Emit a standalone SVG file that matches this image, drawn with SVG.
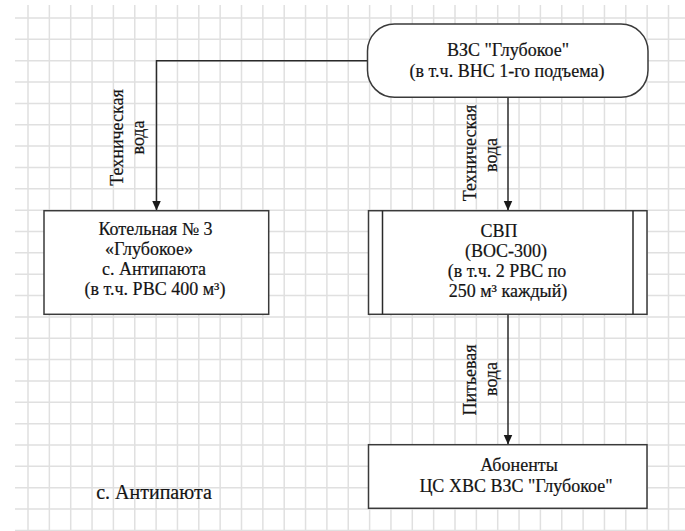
<svg xmlns="http://www.w3.org/2000/svg" width="685" height="531" viewBox="0 0 685 531">
<defs>
<style>
.grid{fill:none;stroke:#e0e0e0;stroke-width:1.5}
.node{fill:#ffffff;stroke:#3a3a3a;stroke-width:1.5}
.edge{fill:none;stroke:#2a2a2a;stroke-width:1.5}
.t{font-family:'Liberation Serif','Times New Roman',serif;font-size:18px;fill:#141414;stroke:#141414;stroke-width:0.2;text-anchor:middle}
</style>
<marker id="arr" markerUnits="userSpaceOnUse" markerWidth="10" markerHeight="10" refX="10" refY="4.5" orient="auto">
<path d="M0,0 L10,4.5 L0,9 z" fill="#1a1a1a"/>
</marker>
</defs>
<rect x="0" y="0" width="685" height="531" fill="#ffffff"/>
<g id="grid">
<path class="grid" d="M28,5V531M49.35,5V531M70.7,5V531M92.05,5V531M113.4,5V531M134.75,5V531M156.1,5V531M177.45,5V531M198.8,5V531M220.15,5V531M241.5,5V531M262.85,5V531M284.2,5V531M305.55,5V531M326.9,5V531M348.25,5V531M369.6,5V531M390.95,5V531M412.3,5V531M433.65,5V531M455,5V531M476.35,5V531M497.7,5V531M519.05,5V531M540.4,5V531M561.75,5V531M583.1,5V531M604.45,5V531M625.8,5V531M647.15,5V531M668.5,5V531"/>
<path class="grid" d="M15,18H685M15,39.35H685M15,60.7H685M15,82.05H685M15,103.4H685M15,124.75H685M15,146.1H685M15,167.45H685M15,188.8H685M15,210.15H685M15,231.5H685M15,252.85H685M15,274.2H685M15,295.55H685M15,316.9H685M15,338.25H685M15,359.6H685M15,380.95H685M15,402.3H685M15,423.65H685M15,445H685M15,466.35H685M15,487.7H685M15,509.05H685M15,530.4H685"/>
</g>
<g id="connectors">
<path class="edge" d="M367.5,60.7H156.5V210.5" marker-end="url(#arr)"/>
<path class="edge" d="M508,97.3V210.5" marker-end="url(#arr)"/>
<path class="edge" d="M508,314.3V444.5" marker-end="url(#arr)"/>
<text class="t" transform="translate(123,137.5) rotate(-90)">Техническая</text>
<text class="t" transform="translate(144,137.5) rotate(-90)">вода</text>
<text class="t" transform="translate(476,153) rotate(-90)">Техническая</text>
<text class="t" transform="translate(497,155) rotate(-90)">вода</text>
<text class="t" transform="translate(476,380) rotate(-90)">Питьевая</text>
<text class="t" transform="translate(497,379) rotate(-90)">вода</text>
</g>
<g id="vzs">
<rect class="node" x="367.5" y="24" width="280.5" height="73.3" rx="27" ry="27"/>
<text class="t" x="508" y="56">ВЗС "Глубокое"</text>
<text class="t" x="507" y="77">(в т.ч. ВНС 1-го подъема)</text>
</g>
<g id="kotelnaya">
<rect class="node" x="44" y="210.7" width="224.7" height="103.6"/>
<text class="t" x="155.5" y="235">Котельная № 3</text>
<text class="t" x="149" y="255">«Глубокое»</text>
<text class="t" x="154" y="275">с. Антипаюта</text>
<text class="t" x="155" y="294.5">(в т.ч. РВС 400 м³)</text>
</g>
<g id="svp">
<rect class="node" x="368.5" y="210.7" width="278.5" height="103.6"/>
<path class="edge" d="M382.5,210.7V314.3M633,210.7V314.3"/>
<text class="t" x="499" y="236.5">СВП</text>
<text class="t" x="506" y="256.5">(ВОС-300)</text>
<text class="t" x="507" y="277">(в т.ч. 2 РВС по</text>
<text class="t" x="508" y="297">250 м³ каждый)</text>
</g>
<g id="abonenty">
<rect class="node" x="368.5" y="444.7" width="278.5" height="63.6"/>
<text class="t" x="519" y="471">Абоненты</text>
<text class="t" x="516" y="491.5">ЦС ХВС ВЗС "Глубокое"</text>
</g>
<g id="label">
<text class="t" style="font-size:20px" x="154" y="499">с. Антипаюта</text>
</g>
</svg>
